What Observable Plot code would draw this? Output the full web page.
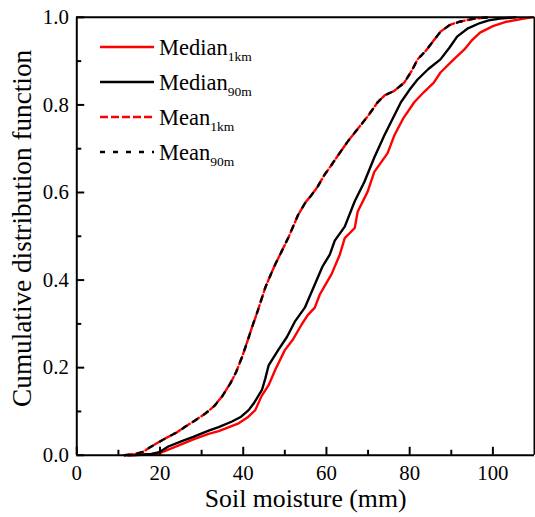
<!DOCTYPE html>
<html><head><meta charset="utf-8">
<script src="https://cdn.jsdelivr.net/npm/d3@7"></script>
<script src="https://cdn.jsdelivr.net/npm/@observablehq/plot@0.6"></script>
<style>
html,body{margin:0;padding:0;overflow:hidden;background:#fff;}
#wrap{position:relative;width:535px;height:517px;overflow:hidden;}
#wrap svg.legend{position:absolute;left:0;top:0;}
</style></head><body><div id="wrap"></div>
<script>
// ---- data ----
const seriesNames = ["Median", "Median", "Mean", "Mean"];
const seriesSubs = ["1km", "90m", "1km", "90m"];
const seriesKeys = ["Median_1km", "Median_90m", "Mean_1km", "Mean_90m"];

const median1kmX = [12.5,16,19.8,22,25.4,28,31.7,34.1,38.9,41,42.9,44.4,46.1,47.7,50,52,54,55.5,57.2,58.4,59.8,61.2,63.2,64.4,66.8,67.5,69.9,71.5,74.7,76.3,78.5,81.1,83.5,85.8,87.4,90.6,93.1,95,96.9,100,103.3,107.4,109.5];
const median1kmY = [0,0.001,0.004,0.013,0.026,0.036,0.049,0.055,0.073,0.086,0.103,0.135,0.16,0.195,0.24,0.265,0.298,0.32,0.337,0.367,0.39,0.413,0.458,0.496,0.519,0.556,0.602,0.647,0.69,0.73,0.77,0.806,0.83,0.851,0.874,0.904,0.926,0.948,0.965,0.98,0.99,0.997,1];

const median90mX = [12.2,15,18,19.8,22,25.4,28,31.7,34.1,37.3,39.5,41.3,42.5,44.5,45.3,46.1,48.4,50.5,52.4,54.8,57.2,59,60.8,62,64.4,66.8,69.1,71.5,73.9,76,77.9,80,81.9,84.5,87.4,89.5,91.4,94,96.9,99,101.7,105.5];
const median90mY = [0,0.001,0.003,0.007,0.02,0.033,0.042,0.056,0.064,0.077,0.088,0.103,0.118,0.149,0.175,0.205,0.24,0.27,0.305,0.337,0.39,0.43,0.458,0.49,0.522,0.58,0.624,0.68,0.73,0.77,0.806,0.835,0.858,0.882,0.904,0.93,0.956,0.975,0.987,0.993,0.997,1];

const meanX = [11.5,14,16,17.4,19,21.4,24,26.2,28.5,31,33,34.9,36.9,38.3,39.7,41,42.1,43.5,45.3,46.5,47.7,49.2,50.8,53.2,55,56.4,57.8,59.5,61,62.8,65,67.5,70,72.3,74,76.3,78.7,80.5,81.9,84,85.9,87.5,89.7,92,95.5,99];
const mean1kmY = [0,0.003,0.008,0.017,0.026,0.039,0.052,0.066,0.08,0.096,0.112,0.134,0.164,0.19,0.224,0.26,0.292,0.33,0.383,0.41,0.436,0.465,0.496,0.549,0.578,0.594,0.612,0.64,0.66,0.685,0.715,0.745,0.775,0.806,0.822,0.832,0.851,0.878,0.904,0.925,0.949,0.968,0.983,0.99,0.997,1];
const mean90mY = [0,0.003,0.008,0.017,0.026,0.039,0.052,0.066,0.08,0.096,0.112,0.134,0.164,0.19,0.224,0.26,0.292,0.33,0.383,0.41,0.436,0.465,0.496,0.549,0.578,0.594,0.612,0.64,0.66,0.685,0.715,0.745,0.775,0.806,0.822,0.832,0.851,0.878,0.904,0.925,0.949,0.968,0.983,0.99,0.997,1];

const xMajorTicks = [0,20,40,60,80,100];
const xTickLabels = ["0","20","40","60","80","100"];
const xMinorTicks = [10,30,50,70,90];
const yMajorTicks = [0,0.2,0.4,0.6,0.8,1.0];
const yTickLabels = ["0.0","0.2","0.4","0.6","0.8","1.0"];
const yMinorTicks = [0.1,0.3,0.5,0.7,0.9];
const xTitle = "Soil moisture (mm)";
const yTitle = "Cumulative distribution function";

// ---- styles ----
const styles = {
  Median_1km: {stroke: "#ff0000", dash: null},
  Median_90m: {stroke: "#000000", dash: null},
  Mean_1km: {stroke: "#ff0000", dash: "8,3"},
  Mean_90m: {stroke: "#000000", dash: "5,8"}
};

const toRows = (xs, ys) => xs.map((x, i) => ({x, y: ys[i]}));
const seriesData = {
  Median_1km: toRows(median1kmX, median1kmY),
  Median_90m: toRows(median90mX, median90mY),
  Mean_1km: toRows(meanX, mean1kmY),
  Mean_90m: toRows(meanX, mean90mY)
};

const font = '"Liberation Serif","Times New Roman",serif';

const lineMarks = seriesKeys.map(k => Plot.line(seriesData[k], {
  x: "x", y: "y", stroke: styles[k].stroke, strokeWidth: 2.4,
  strokeDasharray: styles[k].dash, strokeLinejoin: "round"
}));

const chart = Plot.plot({
  width: 540, height: 517,
  marginLeft: 77, marginRight: 1, marginTop: 17, marginBottom: 58,
  x: {domain: [0, 110], label: null},
  y: {domain: [0, 1], label: null},
  style: {fontFamily: font, fontSize: "21px", color: "black", background: "white", overflow: "visible"},
  marks: [
    ...lineMarks,
    Plot.ruleX([0, 110], {strokeWidth: 2}),
    Plot.ruleY([0, 1], {strokeWidth: 2}),
    Plot.axisX({ticks: xMajorTicks, tickSize: -8, strokeWidth: 2, tickFormat: () => "", label: null}),
    Plot.axisX({ticks: xMinorTicks, tickSize: -5, strokeWidth: 2, tickFormat: () => "", label: null}),
    Plot.axisX({ticks: xMajorTicks, tickSize: 0, tickPadding: 10, tickFormat: (d, i) => xTickLabels[i], fontSize: 21, label: null}),
    Plot.axisY({ticks: yMajorTicks, tickSize: -8, strokeWidth: 2, tickFormat: () => "", label: null}),
    Plot.axisY({ticks: yMinorTicks, tickSize: -5, strokeWidth: 2, tickFormat: () => "", label: null}),
    Plot.axisY({ticks: yMajorTicks, tickSize: 0, tickPadding: 8, tickFormat: (d, i) => yTickLabels[i], fontSize: 21, label: null}),
    Plot.text([xTitle], {frameAnchor: "bottom", dy: 44, fontSize: 26, lineAnchor: "middle", textAnchor: "middle", text: d => d}),
    Plot.text([yTitle], {frameAnchor: "left", dx: -55, dy: -8, rotate: -90, fontSize: 27.5, lineAnchor: "middle", textAnchor: "middle", text: d => d})
  ]
});
const wrap = document.getElementById("wrap");
wrap.appendChild(chart);

// ---- legend overlay ----
const rowY = [47, 82, 117, 152];
const leg = d3.select(wrap).append("svg").attr("class", "legend")
  .attr("width", 535).attr("height", 517)
  .style("font-family", font);
seriesKeys.forEach((k, i) => {
  leg.append("line")
    .attr("x1", 100).attr("x2", 154).attr("y1", rowY[i]).attr("y2", rowY[i])
    .attr("stroke", styles[k].stroke).attr("stroke-width", 2.4)
    .attr("stroke-dasharray", styles[k].dash);
  const t = leg.append("text").attr("x", 159).attr("y", rowY[i] + 8)
    .attr("font-size", 22.5).attr("fill", "black");
  t.append("tspan").text(seriesNames[i]);
  t.append("tspan").attr("font-size", 13.5).attr("dy", 6).text(seriesSubs[i]);
});
</script></body></html>
